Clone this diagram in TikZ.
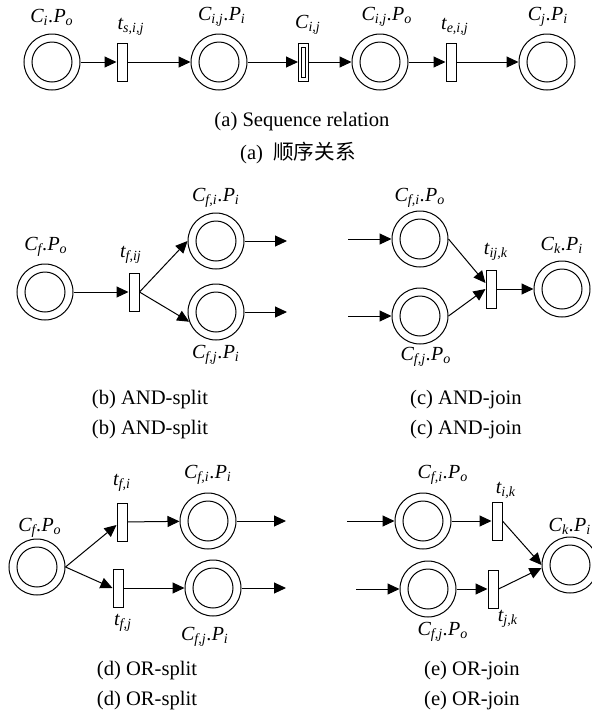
\documentclass[tikz,border=0pt]{standalone}
\usepackage{fontspec}
\setmainfont{Liberation Serif}
\newfontfamily\cjkfont{Noto Sans CJK SC}
\usetikzlibrary{arrows.meta,calc}
\newcommand{\plbl}[2]{C\textsubscript{#1}.P\textsubscript{#2}}
\newcommand{\tlbl}[1]{t\textsubscript{#1}}
\tikzset{
  place/.style={circle, draw, line width=0.5pt, minimum size=28pt, inner sep=0pt,
    path picture={\draw[line width=0.5pt] (path picture bounding box.center) circle (10pt);}},
  trans/.style={rectangle, draw, line width=0.5pt, minimum width=5pt,
    minimum height=19pt, inner sep=0pt},
  subnet/.style={trans,
    path picture={\draw[line width=0.5pt]
      ($(path picture bounding box.center)+(-1pt,-7.5pt)$) rectangle
      ($(path picture bounding box.center)+(1pt,7.5pt)$);}},
  lbl/.style={font=\fontsize{10}{12}\selectfont\itshape, inner sep=0pt},
  captxt/.style={font=\fontsize{10.3}{12}\selectfont, inner sep=0pt},
  arc/.style={-{Triangle[length=6pt,width=5.5pt]}, line width=0.5pt},
}

\begin{document}
\begin{tikzpicture}[x=0.5pt, y=-0.5pt]
\useasboundingbox (0,0) rectangle (591,714);

%% == (a) SEQUENCE ============================================================
\node[place]  (Pa1) at ( 52,62) {};
\node[trans]  (Ta1) at (122,62) {};
\node[place]  (Pa2) at (219,62) {};
\node[subnet] (Ta2) at (303.5,62) {};
\node[place]  (Pa3) at (380,62) {};
\node[trans]  (Ta3) at (451,62) {};
\node[place]  (Pa4) at (547,62) {};
\draw[arc] (Pa1) -- (Ta1);
\draw[arc] (Ta1) -- (Pa2);
\draw[arc] (Pa2) -- (Ta2);
\draw[arc] (Ta2) -- (Pa3);
\draw[arc] (Pa3) -- (Ta3);
\draw[arc] (Ta3) -- (Pa4);

\node[lbl] (lPa1) at ( 52,17) {\plbl{i}{o}};
\node[lbl] (lTa1) at (131,27) {\tlbl{s,i,j}};
\node[lbl] (lPa2) at (222,17) {\plbl{i,j}{i}};
\node[lbl] (lTa2) at (308,25) {C\textsubscript{i,j}};
\node[lbl] (lPa3) at (387,17) {\plbl{i,j}{o}};
\node[lbl] (lTa3) at (455,27) {\tlbl{e,i,j}};
\node[lbl] (lPa4) at (548,17) {\plbl{j}{i}};

\node[captxt] (capA1) at (302,122) {(a) Sequence relation};
\node[captxt] (capA2) at (298,153) {(a)~ {\cjkfont 顺序关系}};

%% == (b) AND-SPLIT ===========================================================
\node[place] (Pb1) at ( 45,292) {};
\node[trans] (Tb)  at (134,292) {};
\node[place] (Pb2) at (216,241) {};
\node[place] (Pb3) at (216,312) {};
\coordinate (ob2) at (287,241);
\coordinate (ob3) at (287,312);
\draw[arc] (Pb1) -- (Tb);
\draw[arc] (Tb.east) -- (Pb2.west);
\draw[arc] (Tb.east) -- (Pb3.200);
\draw[arc] (Pb2) -- (ob2);
\draw[arc] (Pb3) -- (ob3);

\node[lbl] (lPb1) at ( 46,247) {\plbl{f}{o}};
\node[lbl] (lTb)  at (131,255) {\tlbl{f,ij}};
\node[lbl] (lPb2) at (216,198) {\plbl{f,i}{i}};
\node[lbl] (lPb3) at (216,355) {\plbl{f,j}{i}};

\node[captxt] (capB1) at (150,400) {(b) AND-split};
\node[captxt] (capB2) at (150,430) {(b) AND-split};

%% == (c) AND-JOIN ============================================================
\coordinate (ic1) at (348,239);
\coordinate (ic2) at (348,316);
\node[place] (Pc1) at (420,239) {};
\node[place] (Pc2) at (420,316) {};
\node[trans] (Tc)  at (491,289) {};
\node[place] (Pc3) at (562,289) {};
\draw[arc] (ic1) -- (Pc1);
\draw[arc] (ic2) -- (Pc2);
\draw[arc] (Pc1.east) -- ($(Tc.west)+(0,-6)$);
\draw[arc] (Pc2.east) -- (Tc.west);
\draw[arc] (Tc) -- (Pc3);

\node[lbl] (lPc1) at (420,198) {\plbl{f,i}{o}};
\node[lbl] (lPc2) at (426,357) {\plbl{f,j}{o}};
\node[lbl] (lTc)  at (496,252) {\tlbl{ij,k}};
\node[lbl] (lPc3) at (562,245) {\plbl{k}{i}};

\node[captxt] (capC1) at (466,400) {(c) AND-join};
\node[captxt] (capC2) at (466,430) {(c) AND-join};

%% == (d) OR-SPLIT ============================================================
\node[place] (Pd1) at ( 37,567) {};
\node[trans] (Td1) at (122,522) {};
\node[trans] (Td2) at (118,588) {};
\node[place] (Pd2) at (208,521) {};
\node[place] (Pd3) at (213,588) {};
\coordinate (od2) at (286,521);
\coordinate (od3) at (286,588);
\draw[arc] (Pd1.east) -- ($(Td1.west)+(0,3)$);
\draw[arc] (Pd1.east) -- (Td2.west);
\draw[arc] (Td1) -- (Pd2);
\draw[arc] (Td2) -- (Pd3);
\draw[arc] (Pd2) -- (od2);
\draw[arc] (Pd3) -- (od3);

\node[lbl] (lPd1) at ( 40,528) {\plbl{f}{o}};
\node[lbl] (lTd1) at (122,483) {\tlbl{f,i}};
\node[lbl] (lTd2) at (123,623) {\tlbl{f,j}};
\node[lbl] (lPd2) at (208,475) {\plbl{f,i}{i}};
\node[lbl] (lPd3) at (205,637) {\plbl{f,j}{i}};

\node[captxt] (capD1) at (147,671) {(d) OR-split};
\node[captxt] (capD2) at (147,701) {(d) OR-split};

%% == (e) OR-JOIN =============================================================
\coordinate (ie1) at (347,521);
\coordinate (ie2) at (356,589);
\node[place] (Pe1) at (423,521) {};
\node[place] (Pe2) at (428,589) {};
\node[trans] (Te1) at (497,521) {};
\node[trans] (Te2) at (493,589) {};
\node[place] (Pe3) at (570,565) {};
\draw[arc] (ie1) -- (Pe1);
\draw[arc] (ie2) -- (Pe2);
\draw[arc] (Pe1) -- (Te1);
\draw[arc] (Pe2) -- (Te2);
\draw[arc] (Te1.east) -- (Pe3.west);
\draw[arc] (Te2.east) -- ($(Pe3.west)+(0,3)$);

\node[lbl] (lPe1) at (443,475) {\plbl{f,i}{o}};
\node[lbl] (lPe2) at (443,632) {\plbl{f,j}{o}};
\node[lbl] (lTe1) at (506,490) {\tlbl{i,k}};
\node[lbl] (lTe2) at (508,619) {\tlbl{j,k}};
\node[lbl] (lPe3) at (570,526) {\plbl{k}{i}};

\node[captxt] (capE1) at (472,671) {(e) OR-join};
\node[captxt] (capE2) at (472,701) {(e) OR-join};
\end{tikzpicture}
\end{document}
